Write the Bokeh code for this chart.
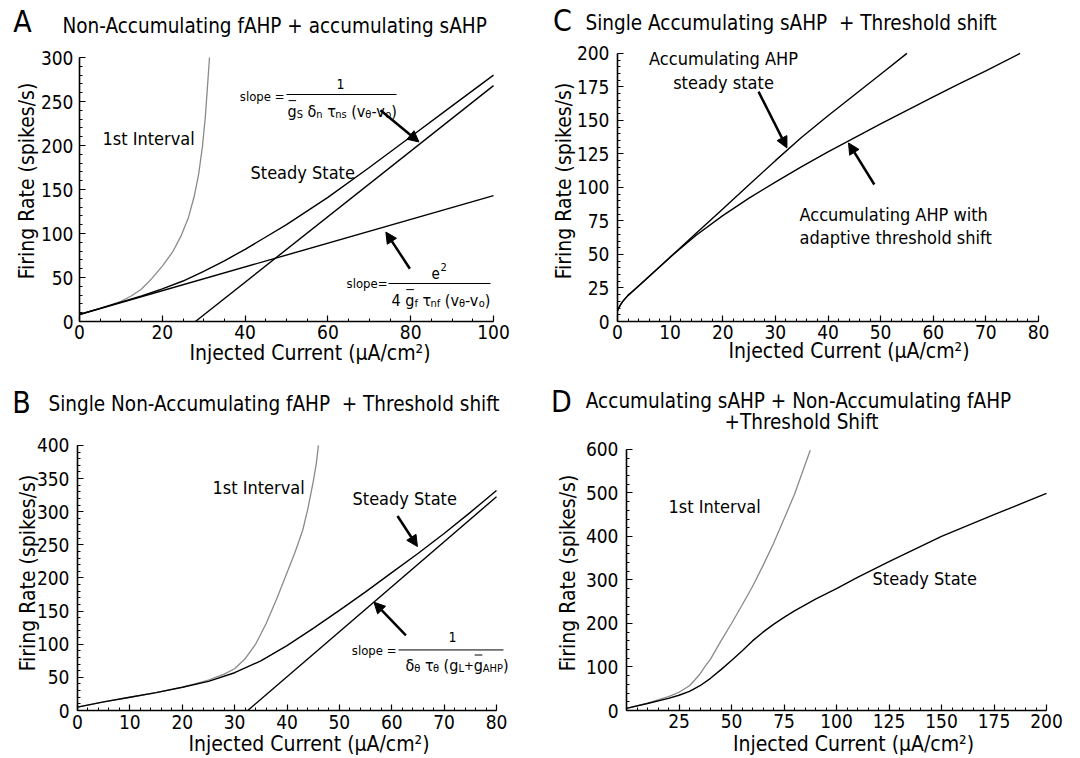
from bokeh.plotting import figure
from bokeh.models import Range1d, Label, Arrow, NormalHead, FixedTicker, SingleIntervalTicker
from bokeh.layouts import column, row
from bokeh.embed import file_html
from bokeh.resources import INLINE

# ---------------- data ----------------
# Panel A : Non-Accumulating fAHP + accumulating sAHP
a_first_x = [0, 5, 10, 12.5, 15, 17.5, 20, 22.5, 24.5, 26.3, 27.7, 28.8, 29.7, 30.4, 30.9, 31.4]
a_first_y = [8, 15, 23, 29, 37, 49, 63, 79, 97, 118, 142, 168, 199, 233, 266, 300]
a_ss_x = [0, 5, 10, 15, 20, 25, 30, 35, 40, 45, 50, 60, 70, 80, 90, 100]
a_ss_y = [8, 15, 22, 29, 37, 46, 57, 69, 82, 96, 110, 141, 175, 210, 245, 280]
a_fast_x = [0, 100]
a_fast_y = [8, 143]
a_asym_x = [28, 100]
a_asym_y = [0, 268]

# Panel B : Single Non-Accumulating fAHP + Threshold shift
b_first_x = [0, 5, 10, 15, 20, 25, 28, 30, 32, 34, 36, 38, 40, 41.5, 43, 44, 45, 45.6, 46]
b_first_y = [5, 13, 20, 27, 35, 46, 55, 63, 78, 100, 131, 168, 208, 238, 272, 305, 345, 373, 400]
b_ss_x = [0, 5, 10, 15, 20, 25, 30, 35, 40, 45, 50, 55, 60, 65, 70, 75, 80]
b_ss_y = [5, 13, 20, 27, 35, 44, 57, 75, 98, 124, 151, 179, 208, 237, 267, 299, 332]
b_asym_x = [32.5, 80]
b_asym_y = [0, 322.5]

# Panel C : Single Accumulating sAHP + Threshold shift
c_ss_x = [0, 0.5, 1, 2, 3, 5, 10, 15, 20, 25, 30, 35, 40, 45, 50, 55]
c_ss_y = [8, 12, 15, 19.5, 23, 30, 48, 66, 84, 102, 120, 137.5, 153.5, 169, 184.5, 200]
c_th_x = [0, 0.5, 1, 2, 3, 5, 10, 15, 20, 25, 30, 35, 40, 45, 50, 55, 60, 65, 70, 76.5]
c_th_y = [8, 12, 15, 19.5, 23, 30, 48, 64.5, 79, 92, 104, 115.5, 126.5, 137, 147.5, 157.5, 167.5,
          177.5, 187, 200]

# Panel D : Accumulating sAHP + Non-Accumulating fAHP + Threshold Shift
d_first_x = [0, 10, 20, 25, 30, 32.5, 35, 37.5, 40, 45, 50, 55, 60, 65, 70, 75, 80, 87.5]
d_first_y = [5, 17, 32, 42, 57, 70, 84, 102, 118, 160, 200, 242, 285, 333, 384, 440, 497, 598]
d_ss_x = [0, 10, 20, 25, 30, 35, 40, 45, 50, 55, 60, 65, 70, 75, 80, 90, 100, 110, 125, 150, 175, 200]
d_ss_y = [5, 16, 28, 35, 44, 57, 74, 94, 115, 137, 160, 180, 198, 214, 229, 256, 280, 306, 342, 400,
          450, 499]

# arrows (data units): [x_start, y_start, x_end, y_end]
a_arrow1 = [72.7, 240, 82, 204]
a_arrow2 = [79.8, 60, 74, 101.6]
b_arrow1 = [61.1, 293.5, 64.9, 247.5]
b_arrow2 = [62.7, 113.5, 56.6, 163.5]
c_arrow1 = [26.8, 171.5, 32.2, 129.5]
c_arrow2 = [48.8, 102.2, 43.9, 133.2]

d_xticks = [25, 50, 75, 100, 125, 150, 175, 200]
d_xminor = list(range(0, 201, 5))

# ---------------- layout / style ----------------
FONT = "DejaVu Sans Condensed, DejaVu Sans"
GRAY = "#8a8a8a"

# page-wide title strips (left, top, width, height)
STRIPS = {'top': (0, 0, 1080, 40), 'mid': (0, 380, 1080, 55)}
# fig = plot (left, top, width, height) on the page; frame = data box (left, right, top, bottom)
PANELS = {
    'A': dict(fig=(0, 40, 540, 340), frame=(79, 493, 57, 321), xr=(0, 100), yr=(0, 300)),
    'C': dict(fig=(540, 40, 540, 340), frame=(617, 1038, 53, 323), xr=(0, 80), yr=(0, 200)),
    'B': dict(fig=(0, 435, 540, 323), frame=(77, 496, 445, 712), xr=(0, 80), yr=(0, 400)),
    'D': dict(fig=(540, 435, 540, 323), frame=(626, 1046, 449, 711), xr=(0, 200), yr=(0, 600)),
}

CW = {' ': 0.318, '(': 0.390, ')': 0.390, '-': 0.361, '+': 0.838, '=': 0.838, 'g': 0.635,
      'v': 0.592, 'S': 0.635, 'n': 0.634, 's': 0.521, 'o': 0.612, 'δ': 0.612, 'τ': 0.558,
      'θ': 0.612, 'f': 0.352, 'e': 0.615, '4': 0.636, 'L': 0.557, 'A': 0.684, 'H': 0.752,
      'P': 0.603, '1': 0.636, '2': 0.636, 'l': 0.278, 'p': 0.635}


def tw(s, size):
    return sum(CW.get(c, 0.6) for c in s) * size * 0.9


def to_data(key, px, py):
    P = PANELS[key]
    L, R, T, B = P['frame']
    x0, x1 = P['xr']
    y0, y1 = P['yr']
    return x0 + (px - L) / (R - L) * (x1 - x0), y0 + (B - py) / (B - T) * (y1 - y0)


def make_strip(key):
    sx, sy, sw, sh = STRIPS[key]
    s = figure(width=sw, height=sh, x_range=Range1d(sx, sx + sw), y_range=Range1d(sy + sh, sy),
               x_axis_type=None, y_axis_type=None, output_backend="svg", toolbar_location=None,
               min_border_left=0, min_border_right=0, min_border_top=0, min_border_bottom=0)
    s.outline_line_color = None
    s.background_fill_color = "white"
    s.border_fill_color = "white"
    return s


def slbl(s, px, py, text, size, align='left'):
    s.add_layout(Label(x=px, y=py, text=text, text_font=FONT, text_font_size=f"{size}px",
                       text_align=align, text_baseline='middle', text_color="black"))


def make_fig(key, xticker, yticker, xtick_std, xlab_std, ytick_std, ylab_std):
    P = PANELS[key]
    fx, fy, fw, fh = P['fig']
    L, R, T, B = P['frame']
    x0, x1 = P['xr']
    y0, y1 = P['yr']
    x_end = x1 + (fx + fw - R) / (R - L) * (x1 - x0)
    y_end = y1 + (T - fy) / (B - T) * (y1 - y0)
    p = figure(width=fw, height=fh, x_range=Range1d(x0, x_end), y_range=Range1d(y0, y_end),
               output_backend="svg", toolbar_location=None,
               min_border_left=L - fx, min_border_right=0,
               min_border_top=0, min_border_bottom=fy + fh - B)
    p.outline_line_color = None
    p.grid.visible = False
    p.background_fill_color = "white"
    p.border_fill_color = "white"
    p.xaxis.ticker = xticker
    p.yaxis.ticker = yticker
    p.xaxis.bounds = (x0, x1)
    p.yaxis.bounds = (y0, y1)
    p.xaxis.axis_label = "Injected Current (μA/cm²)"
    p.yaxis.axis_label = "Firing Rate (spikes/s)"
    for ax in (p.xaxis[0], p.yaxis[0]):
        ax.axis_line_width = 1.6
        ax.axis_line_color = "black"
        ax.major_tick_in = 6
        ax.major_tick_out = 0
        ax.minor_tick_in = 3
        ax.minor_tick_out = 0
        ax.major_tick_line_width = 1.2
        ax.minor_tick_line_width = 1
        ax.major_label_text_font = FONT
        ax.major_label_text_font_size = "19px"
        ax.major_label_text_color = "black"
        ax.axis_label_text_font = FONT
        ax.axis_label_text_font_style = "normal"
        ax.axis_label_text_color = "black"
        ax.axis_label_text_font_size = "21px"
    p.xaxis.major_label_standoff = xtick_std
    p.xaxis.axis_label_standoff = xlab_std
    p.yaxis.major_label_standoff = ytick_std
    p.yaxis.axis_label_standoff = ylab_std
    return p


def lbl(p, key, px, py, text, size, align='left', baseline='middle'):
    x, y = to_data(key, px, py)
    p.add_layout(Label(x=x, y=y, text=text, text_font=FONT, text_font_size=f"{size}px",
                       text_align=align, text_baseline=baseline, text_color="black"))


def hbar(p, key, px0, px1, py, width=1.0):
    x0, y0 = to_data(key, px0, py)
    x1, _ = to_data(key, px1, py)
    p.add_layout(Arrow(start=None, end=None, x_start=x0, y_start=y0, x_end=x1, y_end=y0,
                       line_width=width, line_color="black"))


def runs(p, key, px, base, parts):
    x = px
    for txt, size, dy, bar in parts:
        stripped = txt.lstrip(' ')
        x += tw(txt[:len(txt) - len(stripped)], size)
        w = tw(stripped, size)
        lbl(p, key, x, base + dy, stripped, size, align='left', baseline='alphabetic')
        if bar:
            hbar(p, key, x + 1, x + w - 0.5, base - 0.68 * size, 1.0)
        x += w
    return x


def arrow(p, a):
    p.add_layout(Arrow(end=NormalHead(size=11, fill_color="black", line_color="black"),
                       x_start=a[0], y_start=a[1], x_end=a[2], y_end=a[3],
                       line_width=2.5, line_color="black"))


TITLE = 20.5
ANN = 18
LET = 30
NB = "\u00a0"

# ---------------- title strips ----------------
sTop = make_strip('top')
slbl(sTop, 22, 21, "A", LET, 'center')
slbl(sTop, 62, 25, "Non-Accumulating fAHP + accumulating sAHP", TITLE)
slbl(sTop, 562, 20, "C", LET, 'center')
slbl(sTop, 585, 22, "Single Accumulating sAHP " + NB + "+ Threshold shift", TITLE)

sMid = make_strip('mid')
slbl(sMid, 21, 402, "B", LET, 'center')
slbl(sMid, 48, 403, "Single Non-Accumulating fAHP " + NB + "+ Threshold shift", TITLE)
slbl(sMid, 561, 401, "D", LET, 'center')
slbl(sMid, 798, 400, "Accumulating sAHP + Non-Accumulating fAHP", TITLE, 'center')
slbl(sMid, 801, 421.5, "+Threshold Shift", TITLE, 'center')

# ---------------- panel A ----------------
pA = make_fig('A', SingleIntervalTicker(interval=20, num_minor_ticks=4),
              SingleIntervalTicker(interval=50, num_minor_ticks=5), 3, -1, 6, -1)
pA.line(a_first_x, a_first_y, line_color=GRAY, line_width=1.3)
pA.line(a_ss_x, a_ss_y, line_color="black", line_width=1.4)
pA.line(a_fast_x, a_fast_y, line_color="black", line_width=1.4)
pA.line(a_asym_x, a_asym_y, line_color="black", line_width=1.4)
arrow(pA, a_arrow1)
arrow(pA, a_arrow2)
lbl(pA, 'A', 102, 138, "1st Interval", ANN)
lbl(pA, 'A', 250, 172, "Steady State", ANN)
# formula 1
lbl(pA, 'A', 284, 96, "slope =", 13, 'right')
hbar(pA, 'A', 286, 396, 94)
lbl(pA, 'A', 340, 83, "1", 14, 'center')
runs(pA, 'A', 287, 111, [("g", 16, 0, True), ("S", 11, 3, False), (" δ", 16, 0, False),
                         ("n", 11, 3, False), (" τ", 16, 0, False), ("ns", 11, 3, False),
                         (" (v", 16, 0, False), ("θ", 11, 3, False), ("-v", 16, 0, False),
                         ("o", 11, 3, False), (")", 16, 0, False)])
# formula 2
lbl(pA, 'A', 387, 283, "slope=", 13, 'right')
hbar(pA, 'A', 388, 490, 283)
lbl(pA, 'A', 431, 272, "e", 15, 'left')
lbl(pA, 'A', 440, 266, "2", 11, 'left')
runs(pA, 'A', 391, 300, [("4 ", 16, 0, False), ("g", 16, 0, True), ("f", 11, 3, False),
                         (" τ", 16, 0, False), ("nf", 11, 3, False), (" (v", 16, 0, False),
                         ("θ", 11, 3, False), ("-v", 16, 0, False), ("o", 11, 3, False),
                         (")", 16, 0, False)])

# ---------------- panel C ----------------
pC = make_fig('C', SingleIntervalTicker(interval=10, num_minor_ticks=5),
              SingleIntervalTicker(interval=25, num_minor_ticks=5), 3, -3, 8, -2)
pC.line(c_ss_x, c_ss_y, line_color="black", line_width=1.4)
pC.line(c_th_x, c_th_y, line_color="black", line_width=1.4)
arrow(pC, c_arrow1)
arrow(pC, c_arrow2)
lbl(pC, 'C', 723, 58, "Accumulating AHP", ANN, 'center')
lbl(pC, 'C', 723, 82, "steady state", ANN, 'center')
lbl(pC, 'C', 799, 215, "Accumulating AHP with", ANN)
lbl(pC, 'C', 799, 238, "adaptive threshold shift", ANN)

# ---------------- panel B ----------------
pB = make_fig('B', SingleIntervalTicker(interval=10, num_minor_ticks=5),
              SingleIntervalTicker(interval=50, num_minor_ticks=5), 4, 0, 8, -6)
pB.line(b_first_x, b_first_y, line_color=GRAY, line_width=1.3)
pB.line(b_ss_x, b_ss_y, line_color="black", line_width=1.4)
pB.line(b_asym_x, b_asym_y, line_color="black", line_width=1.4)
arrow(pB, b_arrow1)
arrow(pB, b_arrow2)
lbl(pB, 'B', 212, 487, "1st Interval", ANN)
lbl(pB, 'B', 352, 498, "Steady State", ANN)
lbl(pB, 'B', 396, 652, "slope =", 13, 'right')
hbar(pB, 'B', 398, 503, 651)
lbl(pB, 'B', 452, 638, "1", 14, 'center')
runs(pB, 'B', 405, 667, [("δ", 16, 0, False), ("θ", 11, 3, False), (" τ", 16, 0, False),
                         ("θ", 11, 3, False), (" (g", 16, 0, False), ("L", 11, 3, False),
                         ("+", 13, 0, False), ("g", 16, 0, True), ("AHP", 11, 3, False),
                         (")", 16, 0, False)])

# ---------------- panel D ----------------
pD = make_fig('D', FixedTicker(ticks=d_xticks, minor_ticks=d_xminor),
              SingleIntervalTicker(interval=100, num_minor_ticks=5), 3, 1, 8, 3)
pD.line(d_first_x, d_first_y, line_color=GRAY, line_width=1.3)
pD.line(d_ss_x, d_ss_y, line_color="black", line_width=1.4)
lbl(pD, 'D', 668, 506, "1st Interval", ANN)
lbl(pD, 'D', 872, 579, "Steady State", ANN)

layout = column(sTop, row(pA, pC), sMid, row(pB, pD))
open("out.html", "w").write(file_html(layout, INLINE))
